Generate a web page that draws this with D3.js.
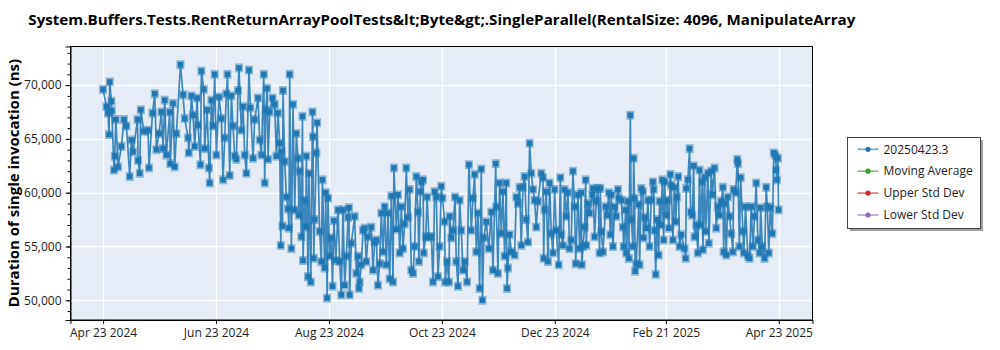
<!DOCTYPE html>
<html><head><meta charset="utf-8">
<script src="https://cdn.jsdelivr.net/npm/d3@7"></script>
<style>
body{margin:0;background:#fff;}
svg{display:block;font-family:"Open Sans","Noto Sans",sans-serif;}
</style>
</head><body>
<svg id="chart" width="1000" height="350"></svg>
<script>
const title = "System.Buffers.Tests.RentReturnArrayPoolTests&lt;Byte&gt;.SingleParallel(RentalSize: 4096, ManipulateArray";
const yLabel = "Duration of single invocation (ns)";
const startDate = "2024-04-23";
const tickDates = ["2024-04-23","2024-06-23","2024-08-23","2024-10-23","2024-12-23","2025-02-21","2025-04-23"];
const tickLabels = ["Apr 23 2024","Jun 23 2024","Aug 23 2024","Oct 23 2024","Dec 23 2024","Feb 21 2025","Apr 23 2025"];
const yTicks = [50000,55000,60000,65000,70000];
const legendNames = ["20250423.3","Moving Average","Upper Std Dev","Lower Std Dev"];
const legendColors = ["#1f77b4","#2ca02c","#d62728","#9467bd"];

// days since 2024-04-23
const days = [
0,1.8,2.7,3.2,3.6,4.5,4.7,5.9,6.3,6.9,
8.1,9.9,11.3,12.6,14.4,15.3,16.2,18.6,18.9,19.8,
20.4,22.0,24.3,24.8,26.7,27.9,28.8,30.2,31.5,32.4,
33.3,34.2,36.0,36.3,37.8,38.7,39.6,41.8,43.2,44.1,
45.9,46.3,47.7,48.6,49.5,50.8,51.3,52.6,53.1,54.4,
54.9,56.2,57.2,57.6,58.5,59.4,60.3,61.2,62.6,63.9,
64.8,65.7,66.6,67.2,68.4,69.3,70.2,71.1,72.0,72.9,
73.4,74.7,75.6,76.5,77.4,78.8,79.6,81.0,81.9,83.7,
84.6,85.5,86.8,87.3,87.9,88.6,89.1,90.0,91.5,92.7,
93.6,94.5,95.4,96.0,96.3,96.9,97.2,98.1,99.0,99.9,
100.4,100.8,101.7,102.6,103.5,104.4,105.3,105.8,106.2,107.1,
107.7,108.0,108.9,109.5,109.8,110.7,111.2,112.2,113.1,113.4,
113.8,114.3,115.2,115.6,117.0,117.9,118.5,119.7,120.3,121.0,
121.5,122.4,123.3,123.9,124.7,125.7,126.9,127.8,128.7,129.6,
130.5,131.4,132.3,132.8,133.2,134.1,135.9,136.8,137.7,138.2,
138.6,139.5,140.4,141.3,142.2,143.1,144.9,145.8,146.7,147.6,
148.5,149.4,150.3,151.2,152.1,153.0,153.9,154.8,155.7,156.6,
157.1,158.4,159.3,160.2,161.1,162.0,162.9,163.8,164.7,165.6,
166.5,167.4,168.3,169.2,170.1,170.6,171.4,171.9,172.8,173.2,
174.3,175.0,176.0,177.3,178.2,179.1,180.0,180.9,181.8,182.7,
183.3,184.5,184.8,185.8,186.8,187.2,188.1,189.0,190.1,190.8,
191.7,192.6,193.5,194.4,195.3,196.6,197.6,198.9,199.8,200.7,
201.6,202.5,203.4,204.3,204.9,205.7,207.0,208.4,209.7,210.6,
212.1,212.4,213.3,214.2,215.1,216.0,216.9,217.8,218.2,218.7,
219.6,220.5,222.3,223.2,224.1,225.0,225.9,226.8,227.7,228.6,
229.5,230.4,231.3,232.2,233.1,234.0,234.9,236.7,237.6,238.0,
238.5,239.4,240.3,241.2,242.1,243.0,243.9,244.8,246.1,247.0,
247.5,248.4,249.3,250.2,251.1,252.0,252.9,253.8,254.7,255.3,
256.5,257.4,258.3,258.6,259.2,260.1,260.7,261.0,261.9,262.8,
264.3,264.6,265.5,266.4,267.3,268.2,268.6,269.1,270.0,271.5,
272.2,273.2,274.0,274.5,275.4,276.3,277.2,278.1,278.6,279.9,
280.8,281.2,282.3,282.6,283.5,284.0,284.8,285.3,286.2,286.6,
287.1,287.4,288.0,289.4,289.8,290.7,291.6,292.0,292.5,293.4,
294.3,295.2,296.1,297.0,297.4,297.9,298.5,299.2,300.1,300.6,
301.2,302.1,302.8,303.3,304.2,304.8,305.6,306.4,306.9,307.8,
308.7,309.3,310.0,310.7,311.4,312.3,314.1,314.7,315.0,315.9,
316.8,317.4,318.3,319.0,319.5,320.4,321.3,322.2,322.6,323.7,
324.0,324.9,325.5,326.7,327.2,328.5,329.1,330.3,331.2,332.1,
333.0,333.9,334.8,335.2,335.7,336.6,337.5,338.4,339.3,340.2,
340.6,341.7,342.6,342.9,343.7,344.4,345.6,346.1,347.0,348.3,
349.2,350.1,351.0,351.9,352.8,353.7,354.6,355.2,356.1,357.3,
358.2,358.8,359.6,360.4,361.5,362.3,363.2,363.6,364.0,364.5,
364.9
];

// duration in ns
const values = [
69600,68000,67400,65400,70300,68500,67600,62100,63400,66800,
62400,64300,66800,66200,61500,64900,63800,66800,63000,61800,
67700,65700,65800,62300,67400,69200,64000,65500,67500,64100,
68600,63500,67500,62700,68300,62400,65500,71900,69100,66900,
65100,63700,69000,67200,64300,68800,66300,62600,71300,69600,
64100,67700,62300,60900,68600,66200,71000,63500,68900,66900,
61200,65100,69200,71000,61600,69000,66200,63400,63100,69500,
71600,65800,68000,63500,61800,71400,67900,63200,66800,68800,
64900,63500,71000,60900,67700,69700,63100,67500,68800,68200,
63400,67400,64600,55100,63800,56900,69500,62900,59600,58500,
56700,71000,54800,68200,58400,65500,63200,57900,62000,55900,
67100,53700,59300,56800,63400,52200,61800,51700,67500,65200,
53900,57500,63700,66500,56400,53600,61200,53000,60000,50200,
59500,54100,55800,51300,57400,53700,58400,53600,50500,58400,
51400,54100,57700,58600,50500,55300,57800,52500,54100,51100,
51700,53300,56500,56700,53600,55900,56800,52800,55400,55600,
51400,53400,58100,54500,58700,53300,58100,52000,59700,51700,
62300,56600,59800,54400,58700,54800,57100,62300,57700,60300,
52800,52500,55000,61500,58200,53600,60100,61000,61200,54400,
55900,59600,55900,55900,51700,60100,59600,52200,55000,60600,
59500,57300,51700,53600,51700,57800,55800,56500,59600,53600,
51300,59300,56500,52800,53600,51700,62600,56500,59500,61700,
54500,58100,51100,62200,50000,55800,57300,54800,58200,52800,
62700,58700,52500,60900,56200,60100,54100,60900,51100,53000,
56100,54500,54200,59600,59000,60500,55100,60500,61500,57500,
55400,64600,61800,60300,59300,56800,59200,61800,61400,53900,
58400,60100,53600,60900,56200,54400,60300,56500,53300,61400,
56100,55100,60300,57800,60000,54800,55600,62000,58700,53400,
59800,54800,60000,53300,55000,56800,61200,55100,59000,58100,
59800,60400,55900,59200,60400,54400,60400,56400,54500,58700,
57900,60000,56100,59800,55000,58700,57800,60300,59500,59300,
56800,55000,58400,54400,59200,53900,67200,57500,55000,63200,
59500,52700,53400,58900,53300,60400,60100,55800,57700,56700,
59300,55000,59300,61000,60300,56500,52400,57500,54200,59200,
57000,61200,55600,61000,57900,59300,56700,61700,60700,55600,
60500,57300,59600,61500,55000,56100,54800,53900,60400,61200,
64100,58200,57900,62500,55900,57000,54400,62100,57000,61000,
54700,61400,56400,61800,55300,62000,59800,62300,56700,58700,
57900,59200,60500,54500,59000,54200,59600,57800,56200,54500,
60300,60000,63100,62700,55000,61400,56400,54400,58700,54100,
53900,58700,55000,57800,60900,55600,54400,58600,55000,53900,
60500,58700,54400,58600,56200,63700,63500,62100,61200,63200,
58400
];

const mLeft = 70.5, mRight = 812.5, mTop = 46.5, mBottom = 320;
const DAY = 86400000;
const t0 = new Date(startDate + "T00:00:00Z").getTime();

const data = days.map((d, i) => ({ date: new Date(t0 + d * DAY), value: values[i] }));

const x = d3.scaleUtc()
  .domain([new Date(t0 - 17.6 * DAY), new Date(t0 + 383.2 * DAY)])
  .range([mLeft, mRight]);
const y = d3.scaleLinear().domain([48167, 73590]).range([mBottom, mTop]);

const svg = d3.select("#chart");

svg.append("rect").attr("x", mLeft).attr("y", mTop)
  .attr("width", mRight - mLeft).attr("height", mBottom - mTop).attr("fill", "#e5ecf6");

const tickDateObjs = tickDates.map(s => new Date(s + "T00:00:00Z"));

const grid = svg.append("g");
grid.selectAll("line.gy").data(yTicks).join("line")
  .attr("x1", mLeft).attr("x2", mRight)
  .attr("y1", d => Math.round(y(d)) + 0.5).attr("y2", d => Math.round(y(d)) + 0.5)
  .attr("stroke", "#fff").attr("stroke-width", 1.3);
grid.selectAll("line.gx").data(tickDateObjs).join("line")
  .attr("y1", mTop).attr("y2", mBottom)
  .attr("x1", d => Math.round(x(d)) + 0.5).attr("x2", d => Math.round(x(d)) + 0.5)
  .attr("stroke", "#fff").attr("stroke-width", 1.3);

svg.append("clipPath").attr("id", "clip").append("rect")
  .attr("x", mLeft).attr("y", mTop).attr("width", mRight - mLeft).attr("height", mBottom - mTop);
const plot = svg.append("g").attr("clip-path", "url(#clip)");

const line = d3.line().x(d => x(d.date)).y(d => y(d.value));
plot.append("path").datum(data).attr("d", line)
  .attr("fill", "none").attr("stroke", "#1f77b4").attr("stroke-width", 1.7)
  .attr("stroke-opacity", 0.85).attr("stroke-linejoin", "round");

const mk = plot.append("g");
mk.selectAll("rect.halo").data(data).join("rect")
  .attr("x", d => x(d.date) - 4).attr("y", d => y(d.value) - 4.5)
  .attr("width", 8).attr("height", 9)
  .attr("fill", "#1f77b4").attr("fill-opacity", 0.45);
mk.selectAll("rect.core").data(data).join("rect")
  .attr("x", d => x(d.date) - 2.75).attr("y", d => y(d.value) - 2.75)
  .attr("width", 5.5).attr("height", 5.5)
  .attr("fill", "#1f77b4");

svg.append("rect").attr("x", mLeft).attr("y", mTop)
  .attr("width", mRight - mLeft).attr("height", mBottom - mTop)
  .attr("fill", "none").attr("stroke", "#000").attr("stroke-width", 1);

const yAxis = svg.append("g").attr("transform", `translate(${mLeft},0)`)
  .call(d3.axisLeft(y).tickValues(yTicks).tickFormat(d3.format(",")).tickSize(5).tickPadding(4));
const yMinor = svg.append("g").attr("transform", `translate(${mLeft},0)`)
  .call(d3.axisLeft(y).tickValues(d3.range(49000, 73001, 1000)).tickFormat("").tickSize(3));
yMinor.select(".domain").remove();

const xAxis = svg.append("g").attr("transform", `translate(0,${mBottom})`)
  .call(d3.axisBottom(x).tickValues(tickDateObjs).tickFormat((d, i) => tickLabels[i]).tickSize(4).tickPadding(4));

[yAxis, xAxis].forEach(g => {
  g.select(".domain").attr("stroke", "#000");
  g.selectAll(".tick text").attr("font-size", 12).attr("fill", "#222")
    .attr("font-family", "'Open Sans','Noto Sans',sans-serif");
});
svg.selectAll(".tick line").attr("stroke", "#000");

svg.append("text").attr("x", 28.3).attr("y", 25)
  .attr("font-size", 15).attr("font-weight", "bold").attr("fill", "#000")
  .attr("textLength", 827).attr("lengthAdjust", "spacingAndGlyphs")
  .text(title);

svg.append("text").attr("transform", "translate(19,183) rotate(-90)")
  .attr("text-anchor", "middle").attr("font-size", 15).attr("font-weight", "bold")
  .attr("fill", "#000").text(yLabel);

const lg = svg.append("g");
lg.append("rect").attr("x", 850).attr("y", 140).attr("width", 133).attr("height", 91)
  .attr("fill", "#888").attr("fill-opacity", 0.8);
lg.append("rect").attr("x", 847.5).attr("y", 137.5).attr("width", 133).attr("height", 91)
  .attr("fill", "#fff").attr("stroke", "#444").attr("stroke-width", 1);
const items = lg.selectAll("g.item").data(legendNames).join("g")
  .attr("transform", (d, i) => `translate(0,${149.3 + i * 21.9})`);
items.append("line").attr("x1", 857.5).attr("x2", 878.5).attr("y1", 0).attr("y2", 0)
  .attr("stroke", (d, i) => legendColors[i]).attr("stroke-opacity", 0.65).attr("stroke-width", 1.6);
items.append("circle").attr("cx", 868).attr("cy", 0).attr("r", 2.6)
  .attr("fill", (d, i) => legendColors[i]);
items.append("text").attr("x", 883.5).attr("y", 0).attr("dy", "0.35em")
  .attr("font-size", 12).attr("fill", "#222").text(d => d);
</script>
</body></html>
